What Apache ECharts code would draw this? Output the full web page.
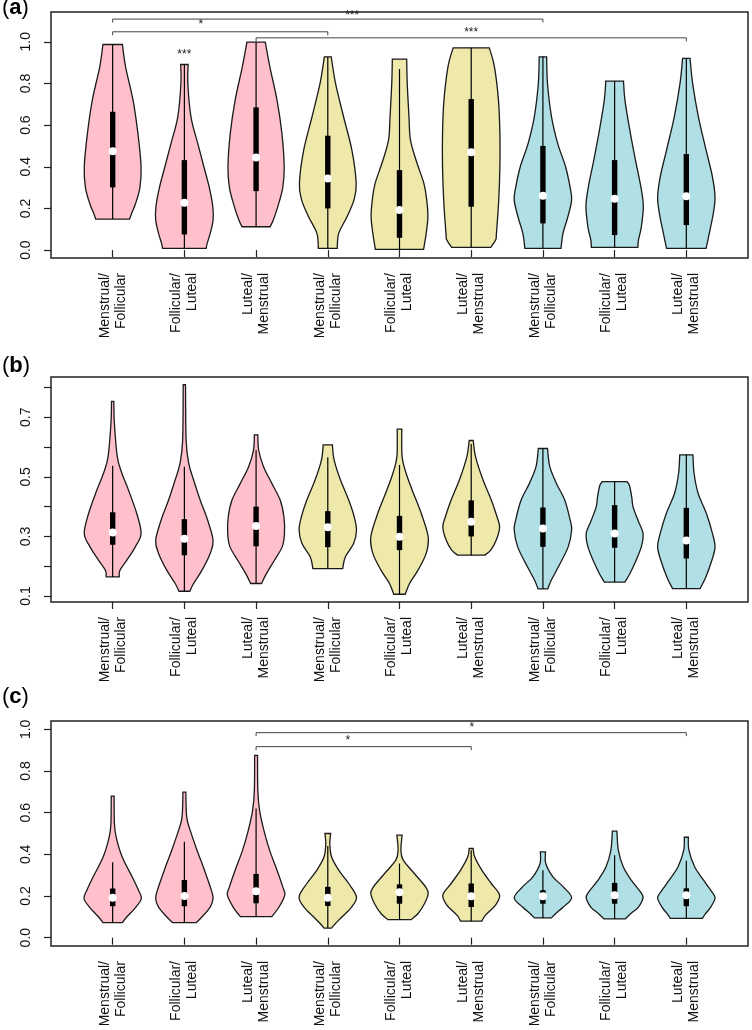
<!DOCTYPE html>
<html><head><meta charset="utf-8">
<script src="https://cdn.jsdelivr.net/npm/echarts@6/dist/echarts.min.js"></script>
<style>html,body{margin:0;padding:0;background:#fff}#c{width:752px;height:1030px}</style>
</head><body><div id="c"></div>
<script>
const categories = ['Menstrual/\nFollicular','Follicular/\nLuteal','Luteal/\nMenstrual',
  'Menstrual/\nFollicular','Follicular/\nLuteal','Luteal/\nMenstrual',
  'Menstrual/\nFollicular','Follicular/\nLuteal','Luteal/\nMenstrual'];
const groupColors = ['#FFC0CB','#FFC0CB','#FFC0CB','#EEE8AA','#EEE8AA','#EEE8AA','#B0E0E6','#B0E0E6','#B0E0E6'];

// Panel (a): violin outlines [value, relative half-width], bottom to top
const profilesA = [
  [[0.149,0.59],[0.176,0.66],[0.22,0.79],[0.30,0.95],[0.40,0.99],[0.56,0.88],[0.72,0.71],[0.88,0.45],[0.987,0.34]],
  [[0.008,0.76],[0.03,0.79],[0.08,0.9],[0.144,1.0],[0.21,0.99],[0.3,0.87],[0.4,0.68],[0.51,0.47],[0.64,0.23],[0.8,0.12],[0.891,0.13]],
  [[0.112,0.49],[0.144,0.6],[0.21,0.76],[0.3,0.93],[0.4,0.98],[0.56,0.9],[0.72,0.73],[0.88,0.48],[0.998,0.32]],
  [[0.008,0.33],[0.08,0.38],[0.16,0.67],[0.24,0.91],[0.32,0.99],[0.48,0.84],[0.64,0.55],[0.8,0.27],[0.928,0.12]],
  [[0.003,0.84],[0.08,0.93],[0.16,0.99],[0.24,0.95],[0.32,0.85],[0.43,0.58],[0.53,0.38],[0.64,0.33],[0.8,0.27],[0.917,0.25]],
  [[0.013,0.68],[0.048,0.85],[0.08,0.88],[0.24,0.96],[0.4,1.0],[0.56,1.0],[0.72,0.95],[0.88,0.81],[0.971,0.63]],
  [[0.008,0.63],[0.08,0.7],[0.16,0.87],[0.24,1.0],[0.3,0.95],[0.4,0.79],[0.51,0.52],[0.64,0.3],[0.8,0.16],[0.928,0.13]],
  [[0.013,0.81],[0.048,0.83],[0.11,0.93],[0.21,1.0],[0.3,0.92],[0.43,0.73],[0.56,0.55],[0.72,0.36],[0.811,0.31]],
  [[0.008,0.69],[0.08,0.8],[0.176,0.94],[0.256,1.0],[0.352,0.91],[0.48,0.69],[0.64,0.42],[0.8,0.22],[0.92,0.13]]
];
const q1A = [0.301,0.075,0.283,0.2,0.059,0.208,0.128,0.072,0.12];
const q3A = [0.664,0.432,0.685,0.549,0.384,0.725,0.5,0.432,0.461];
const medA = [0.475,0.227,0.445,0.344,0.192,0.47,0.261,0.246,0.259];
const loA = [0.149,0.008,0.112,0.008,0.003,0.013,0.008,0.013,0.008];
const hiA = [0.987,0.891,0.998,0.928,0.869,0.971,0.928,0.811,0.92];

// Panel (b)
const profilesB = [
  [[0.164,0.23],[0.186,0.25],[0.22,0.49],[0.265,0.79],[0.31,0.99],[0.377,0.84],[0.456,0.55],[0.512,0.32],[0.568,0.16],[0.68,0.06],[0.753,0.04]],
  [[0.116,0.19],[0.142,0.32],[0.186,0.61],[0.243,0.9],[0.287,1.0],[0.355,0.81],[0.422,0.55],[0.49,0.32],[0.546,0.15],[0.624,0.06],[0.809,0.04]],
  [[0.142,0.19],[0.175,0.36],[0.22,0.64],[0.265,0.91],[0.31,0.99],[0.366,0.97],[0.422,0.84],[0.478,0.55],[0.534,0.26],[0.59,0.09],[0.641,0.06]],
  [[0.192,0.52],[0.231,0.61],[0.276,0.9],[0.321,1.0],[0.366,0.92],[0.422,0.73],[0.49,0.44],[0.557,0.22],[0.607,0.16]],
  [[0.106,0.2],[0.142,0.35],[0.186,0.64],[0.243,0.93],[0.299,1.0],[0.377,0.76],[0.456,0.44],[0.512,0.23],[0.568,0.09],[0.66,0.08]],
  [[0.237,0.47],[0.254,0.68],[0.287,0.87],[0.332,0.99],[0.366,0.9],[0.422,0.7],[0.49,0.41],[0.568,0.15],[0.622,0.07]],
  [[0.124,0.17],[0.153,0.29],[0.198,0.54],[0.265,0.88],[0.321,1.0],[0.355,0.95],[0.422,0.76],[0.478,0.47],[0.534,0.24],[0.595,0.16]],
  [[0.147,0.36],[0.175,0.53],[0.209,0.7],[0.265,0.93],[0.31,0.99],[0.355,0.81],[0.4,0.64],[0.43,0.6],[0.47,0.52],[0.484,0.43]],
  [[0.125,0.48],[0.164,0.68],[0.22,0.89],[0.265,1.0],[0.31,0.91],[0.377,0.7],[0.445,0.41],[0.512,0.27],[0.574,0.23]]
];
const q1B = [0.272,0.237,0.267,0.264,0.254,0.3,0.265,0.262,0.226];
const q3B = [0.381,0.358,0.4,0.385,0.369,0.421,0.397,0.405,0.396];
const medB = [0.313,0.292,0.335,0.331,0.299,0.349,0.327,0.31,0.286];
const loB = [0.164,0.116,0.142,0.192,0.106,0.237,0.124,0.147,0.125];
const hiB = [0.537,0.534,0.59,0.566,0.54,0.61,0.595,0.484,0.574];

// Panel (c)
const profilesC = [
  [[0.072,0.34],[0.099,0.49],[0.147,0.81],[0.188,1.0],[0.228,0.9],[0.292,0.68],[0.388,0.33],[0.484,0.12],[0.548,0.06],[0.679,0.05]],
  [[0.072,0.41],[0.099,0.61],[0.147,0.9],[0.188,1.0],[0.228,0.94],[0.324,0.7],[0.42,0.44],[0.516,0.2],[0.58,0.08],[0.699,0.05]],
  [[0.101,0.55],[0.147,0.8],[0.204,1.0],[0.244,0.93],[0.324,0.73],[0.42,0.47],[0.516,0.27],[0.612,0.12],[0.708,0.06],[0.875,0.05]],
  [[0.046,0.13],[0.067,0.26],[0.099,0.49],[0.147,0.83],[0.196,1.0],[0.26,0.73],[0.324,0.38],[0.388,0.13],[0.452,0.07],[0.5,0.1]],
  [[0.087,0.41],[0.115,0.64],[0.163,0.87],[0.212,1.0],[0.244,0.91],[0.308,0.52],[0.372,0.13],[0.42,0.05],[0.492,0.09]],
  [[0.079,0.37],[0.107,0.49],[0.155,0.84],[0.204,0.99],[0.26,0.7],[0.324,0.37],[0.388,0.12],[0.428,0.07]],
  [[0.095,0.3],[0.115,0.44],[0.147,0.71],[0.192,1.0],[0.244,0.71],[0.292,0.35],[0.356,0.1],[0.412,0.09]],
  [[0.09,0.37],[0.115,0.56],[0.147,0.83],[0.192,0.99],[0.22,0.9],[0.276,0.58],[0.34,0.3],[0.42,0.13],[0.511,0.08]],
  [[0.093,0.56],[0.115,0.67],[0.147,0.85],[0.188,1.0],[0.212,0.93],[0.276,0.6],[0.34,0.29],[0.42,0.09],[0.482,0.07]]
];
const q1C = [0.151,0.151,0.165,0.152,0.163,0.147,0.163,0.163,0.151];
const q3C = [0.236,0.277,0.306,0.244,0.256,0.26,0.228,0.263,0.237];
const medC = [0.192,0.2,0.223,0.192,0.218,0.199,0.199,0.204,0.204];
const loC = [0.072,0.072,0.101,0.046,0.087,0.079,0.095,0.09,0.093];
const hiC = [0.362,0.46,0.62,0.44,0.356,0.42,0.324,0.396,0.369];

// significance brackets: [from, to, bracket y, label, label x, label y]
const bracketsA = [[1,7,1.109,'***',4.34,1.127],[1,4,1.048,'*',2.23,1.08],[3,9,1.019,'***',6,1.045]];
const starsA = [[2,0.936,'***']];
const bracketsC = [[3,9,0.984,'*',6.01,1.01],[3,6,0.917,'*',4.28,0.944]];

const yTicksA = [0,0.2,0.4,0.6,0.8,1.0];
const yTicksB = [0.1,0.2,0.3,0.4,0.5,0.6,0.7,0.8];
const yLabelsB = [0.1,0.3,0.5,0.7];
const yTicksC = [0,0.2,0.4,0.6,0.8,1.0];
const xPositions = [1,2,3,4,5,6,7,8,9];

const FONT = '"Liberation Sans", Arial, Helvetica, sans-serif';
const chart = echarts.init(document.getElementById('c'));

// smooth curve through pixel points (Catmull-Rom as cubic Bezier)
function curveThrough(pts) {
  let d = '';
  for (let i = 0; i < pts.length - 1; i++) {
    const p0 = pts[Math.max(i - 1, 0)], p1 = pts[i], p2 = pts[i + 1], p3 = pts[Math.min(i + 2, pts.length - 1)];
    const c1 = [p1[0] + (p2[0] - p0[0]) / 6, p1[1] + (p2[1] - p0[1]) / 6];
    const c2 = [p2[0] - (p3[0] - p1[0]) / 6, p2[1] - (p3[1] - p1[1]) / 6];
    d += ' C' + c1[0].toFixed(2) + ' ' + c1[1].toFixed(2) + ' ' + c2[0].toFixed(2) + ' ' + c2[1].toFixed(2) +
         ' ' + p2[0].toFixed(2) + ' ' + p2[1].toFixed(2);
  }
  return d;
}

function violinSeries(k, profiles, q1, q3, med, lo, hi) {
  return {
    type: 'custom', xAxisIndex: k, yAxisIndex: k, silent: true,
    data: xPositions.map(x => [x]),
    renderItem: function (params, api) {
      const i = params.dataIndex, x = api.value(0), HW = 0.4;
      const prof = profiles[i];
      const right = prof.map(p => api.coord([x + p[1] * HW, p[0]]));
      const left = prof.slice().reverse().map(p => api.coord([x - p[1] * HW, p[0]]));
      const d = 'M' + right[0][0] + ' ' + right[0][1] + curveThrough(right) +
                ' L' + left[0][0] + ' ' + left[0][1] + curveThrough(left) + ' Z';
      const c = api.coord([x, 0])[0];
      const pLo = api.coord([x, lo[i]]), pHi = api.coord([x, hi[i]]);
      const pQ1 = api.coord([x, q1[i]]), pQ3 = api.coord([x, q3[i]]);
      const pMed = api.coord([x, med[i]]);
      return { type: 'group', children: [
        { type: 'path', shape: { pathData: d },
          style: { fill: groupColors[i], stroke: '#1a1a1a', lineWidth: 1.3, lineJoin: 'miter' } },
        { type: 'line', shape: { x1: c, y1: pLo[1], x2: c, y2: pHi[1] },
          style: { stroke: '#000', lineWidth: 1.2 } },
        { type: 'rect', shape: { x: c - 2.7, y: pQ3[1], width: 5.4, height: pQ1[1] - pQ3[1] },
          style: { fill: '#000' } },
        { type: 'circle', shape: { cx: c, cy: pMed[1], r: 4 }, style: { fill: '#fff' } }
      ]};
    }
  };
}

function bracketSeries(k, brackets) {
  return {
    type: 'custom', xAxisIndex: k, yAxisIndex: k, silent: true,
    data: brackets.map(b => [b[0], b[1], b[2], b[4], b[5]]),
    renderItem: function (params, api) {
      const b = brackets[params.dataIndex];
      const p1 = api.coord([b[0], b[2]]), p2 = api.coord([b[1], b[2]]);
      const pl = api.coord([b[4], b[5]]);
      return { type: 'group', children: [
        { type: 'polyline', shape: { points: [[p1[0], p1[1] + 3.5], p1, p2, [p2[0], p2[1] + 3.5]] },
          style: { stroke: '#444', lineWidth: 1, fill: null } },
        { type: 'text', x: pl[0], y: pl[1], style: { text: b[3], fill: '#222', font: '12px ' + FONT,
          align: 'center', verticalAlign: 'middle' } }
      ]};
    }
  };
}

function starSeries(k, stars) {
  return {
    type: 'custom', xAxisIndex: k, yAxisIndex: k, silent: true,
    data: stars.map(s => [s[0], s[1]]),
    renderItem: function (params, api) {
      const s = stars[params.dataIndex];
      const p = api.coord([s[0], s[1]]);
      return { type: 'text', x: p[0], y: p[1], style: { text: s[2], fill: '#222', font: '12px ' + FONT,
        align: 'center', verticalAlign: 'middle' } };
    }
  };
}

const grids = [
  { left: 51, top: 12, width: 697, height: 246 },
  { left: 51, top: 377, width: 697, height: 225 },
  { left: 51, top: 721, width: 697, height: 225 }
].map(g => Object.assign(g, { show: true, borderColor: '#222', borderWidth: 1.5, backgroundColor: 'transparent' }));

function xAxis(k) {
  return {
    type: 'value', gridIndex: k, min: 0.14, max: 9.86,
    splitLine: { show: false }, axisLine: { show: false },
    axisTick: { show: true, customValues: xPositions, length: 7, lineStyle: { color: '#222', width: 1.2 } },
    axisLabel: { show: true, customValues: xPositions, rotate: 90, margin: 15,
      formatter: v => categories[Math.round(v) - 1],
      fontFamily: FONT, fontSize: 14, lineHeight: 16, color: '#111' }
  };
}
function yAxis(k, min, max, ticks, labels) {
  return {
    type: 'value', gridIndex: k, min: min, max: max,
    splitLine: { show: false }, axisLine: { show: false },
    axisTick: { show: true, customValues: ticks, length: 7, lineStyle: { color: '#222', width: 1.2 } },
    axisLabel: { show: true, customValues: labels, rotate: 90, margin: 18,
      formatter: v => Number(v).toFixed(1), fontFamily: FONT, fontSize: 14, color: '#111' }
  };
}

function panelTitle(letter, top) {
  return { type: 'text', left: 2, top: top, style: {
    text: '{p|(}{b|' + letter + '}{p|)}',
    rich: { p: { font: '22px ' + FONT, fill: '#000' }, b: { font: 'bold 22px ' + FONT, fill: '#000' } } } };
}

chart.setOption({
  animation: false,
  grid: grids,
  xAxis: [xAxis(0), xAxis(1), xAxis(2)],
  yAxis: [yAxis(0, -0.038, 1.143, yTicksA, yTicksA),
          yAxis(1, 0.08, 0.835, yTicksB, yLabelsB),
          yAxis(2, -0.04, 1.04, yTicksC, yTicksC)],
  graphic: [panelTitle('a', -3), panelTitle('b', 355), panelTitle('c', 686)],
  series: [
    violinSeries(0, profilesA, q1A, q3A, medA, loA, hiA),
    violinSeries(1, profilesB, q1B, q3B, medB, loB, hiB),
    violinSeries(2, profilesC, q1C, q3C, medC, loC, hiC),
    bracketSeries(0, bracketsA), starSeries(0, starsA),
    bracketSeries(2, bracketsC)
  ]
});
</script></body></html>
